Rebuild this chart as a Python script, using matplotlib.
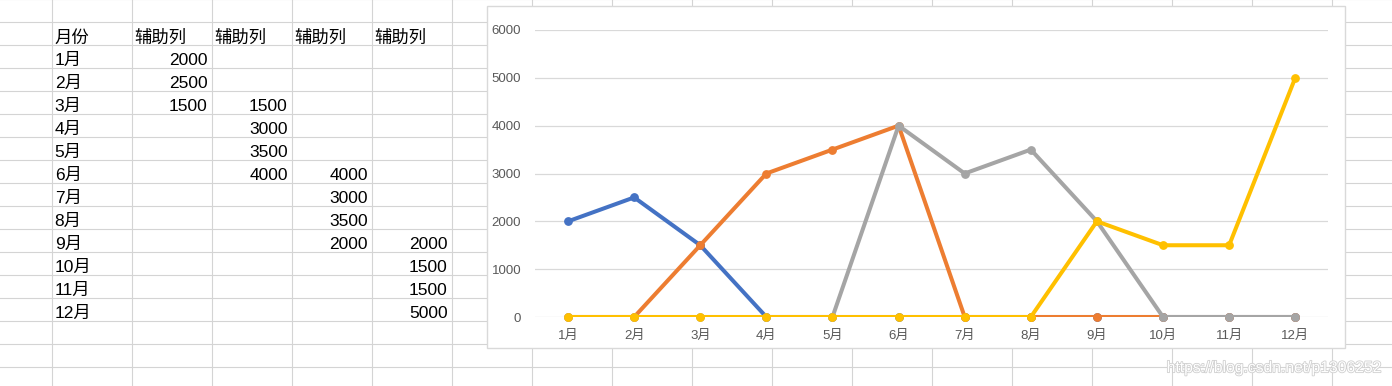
import matplotlib.pyplot as plt
import matplotlib.patheffects as pe
from matplotlib.patches import Rectangle

plt.rcParams["font.family"] = ["Liberation Sans", "Noto Sans CJK SC", "DejaVu Sans"]

# sheet data
months = ["1月", "2月", "3月", "4月", "5月", "6月", "7月", "8月", "9月", "10月", "11月", "12月"]
header = ["月份", "辅助列", "辅助列", "辅助列", "辅助列"]
aux1 = [2000, 2500, 1500, None, None, None, None, None, None, None, None, None]
aux2 = [None, None, 1500, 3000, 3500, 4000, None, None, None, None, None, None]
aux3 = [None, None, None, None, None, 4000, 3000, 3500, 2000, None, None, None]
aux4 = [None, None, None, None, None, None, None, None, 2000, 1500, 1500, 5000]
series = [aux1, aux2, aux3, aux4]
colors = ["#4472C4", "#ED7D31", "#A5A5A5", "#FFC000"]
y_ticks = [0, 1000, 2000, 3000, 4000, 5000, 6000]

W, H = 1392, 386
fig = plt.figure(figsize=(W / 100, H / 100), dpi=100)

# background sheet, pixel coordinates
bg = fig.add_axes([0, 0, 1, 1])
bg.set_xlim(0, W)
bg.set_ylim(H, 0)
bg.axis("off")

col_x = [51.7 + 80 * i for i in range(17)]
row_y = [-0.7 + 23 * i for i in range(18)]
grid_c = "#d4d4d4"
for x in col_x:
    bg.plot([x, x], [0, H], color=grid_c, lw=0.8, zorder=1)
for y in row_y:
    bg.plot([0, W], [y, y], color=grid_c, lw=0.8, zorder=1)

# table text
for j, h in enumerate(header):
    bg.text(col_x[j] + 3, row_y[1] + 20.5, h, fontsize=12.5, ha="left", va="baseline", zorder=2)
for i, m in enumerate(months):
    base = row_y[i + 2] + 19.5
    bg.text(col_x[0] + 3, base, m, fontsize=12.5, ha="left", va="baseline", zorder=2)
    for k, s in enumerate(series):
        if s[i] is not None:
            bg.text(col_x[k + 2] - 4, base, str(s[i]), fontsize=12.5, ha="right", va="baseline", zorder=2)

# chart box
bg.add_patch(Rectangle((486.7, 6), 1345 - 486.7, 347.7 - 6, facecolor="white",
                       edgecolor="#d9d9d9", lw=1, zorder=5))

# plot area
left, right, top, bottom = 535, 1328.3, 30, 317
ax = fig.add_axes([left / W, 1 - bottom / H, (right - left) / W, (bottom - top) / H])
ax.set_facecolor("none")
x = list(range(len(months)))
for s, c in zip(series, colors):
    vals = [0 if v is None else v for v in s]  # blank cells shown as zero
    ax.plot(x, vals, color=c, lw=2.9, solid_capstyle="round", solid_joinstyle="round", zorder=3)
    ax.plot(x, vals, ls="none", marker="o", ms=5.3, color=c, clip_on=False, zorder=3)

ax.set_xlim(-0.5, 11.5)
ax.set_ylim(0, 6000)
ax.set_yticks(y_ticks)
ax.set_xticks(x)
ax.set_xticklabels(months)
for v in y_ticks:
    ax.axhline(v, color="#d9d9d9", lw=0.9, zorder=1)
for sp in ax.spines.values():
    sp.set_visible(False)
ax.tick_params(length=0, labelsize=9.5, labelcolor="#595959")
ax.tick_params(axis="y", pad=10)
ax.tick_params(axis="x", pad=9)

fig.text(1166.7 / W, 1 - 367.7 / H, "https://blog.csdn.net/p1306252", fontsize=11.3,
         color="white", ha="left", va="center", zorder=10,
         path_effects=[pe.withStroke(linewidth=1.2, foreground="#cfcfcf")])

fig.savefig("out.png", dpi=100)
